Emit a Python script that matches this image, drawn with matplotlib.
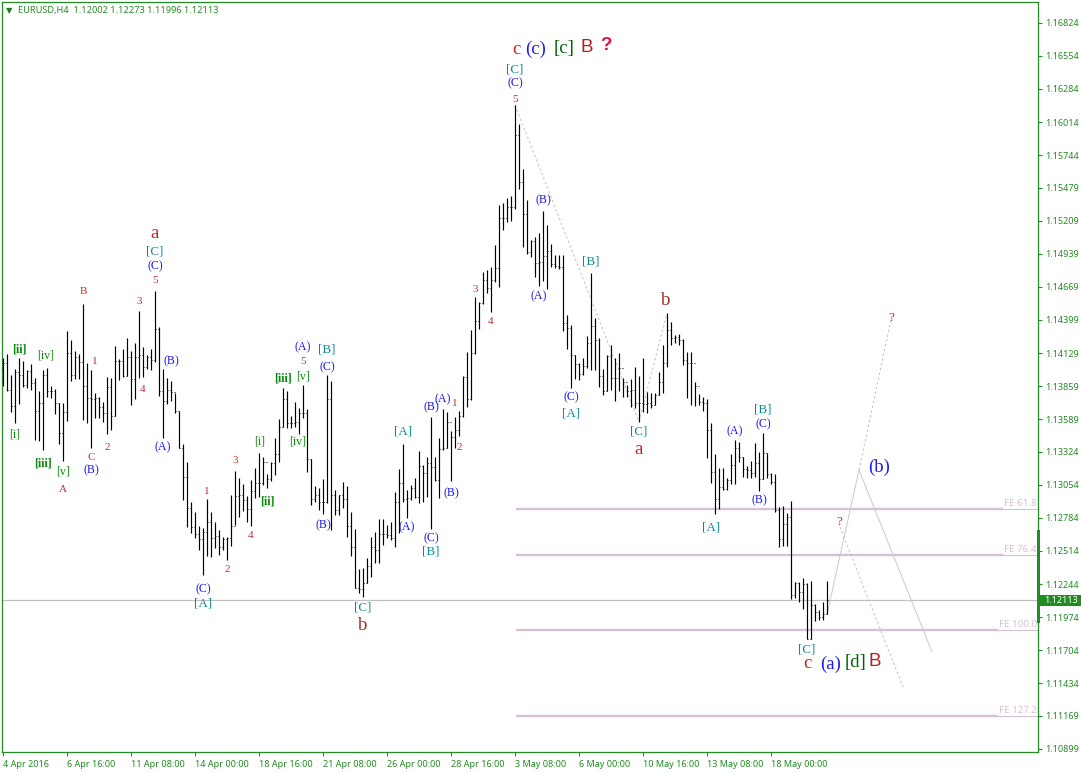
import matplotlib
matplotlib.use("Agg")
import matplotlib.pyplot as plt
from matplotlib.patches import Rectangle

WIDTH, HEIGHT = 1081, 773
GREEN = "#228B22"
THISTLE = "#D8BFD8"
SILVER = "#C0C0C0"

highs = [1.14086, 1.14121, 1.13950, 1.13996, 1.14086, 1.14064, 1.13991, 1.14040, 1.13923, 1.13819,
         1.13991, 1.14004, 1.13860, 1.13833, 1.13724, 1.13719, 1.14309, 1.14235, 1.14146, 1.14121,
         1.14529, 1.14045, 1.13991, 1.13800, 1.13773, 1.13732, 1.13931, 1.13928, 1.14186, 1.14078,
         1.14159, 1.14249, 1.14146, 1.14208, 1.14472, 1.14181, 1.14113, 1.14159, 1.14635, 1.14339,
         1.13996, 1.13923, 1.13901, 1.13806, 1.13659, 1.13387, 1.13237, 1.12911, 1.12829, 1.12720,
         1.12704, 1.12938, 1.12829, 1.12748, 1.12685, 1.12625, 1.12631, 1.12971, 1.13166, 1.13107,
         1.13060, 1.12962, 1.13093, 1.13188, 1.13311, 1.13284, 1.13142, 1.13243, 1.13433, 1.13591,
         1.13841, 1.13819, 1.13615, 1.13732, 1.13683, 1.13868, 1.13670, 1.13265, 1.13044, 1.13025,
         1.13099, 1.13950, 1.13901, 1.13012, 1.12971, 1.13074, 1.13044, 1.12829, 1.12691, 1.12367,
         1.12372, 1.12454, 1.12631, 1.12672, 1.12772, 1.12772, 1.12726, 1.12753, 1.12993, 1.13183,
         1.13384, 1.13012, 1.13052, 1.13107, 1.13330, 1.13216, 1.13278, 1.13605, 1.13284, 1.13433,
         1.13670, 1.13651, 1.13493, 1.13610, 1.13656, 1.13942, 1.14135, 1.14317, 1.14584, 1.14548,
         1.14793, 1.14807, 1.14834, 1.15011, 1.15337, 1.15351, 1.15391, 1.15410, 1.16153, 1.15998,
         1.15628, 1.15378, 1.15051, 1.15073, 1.15106, 1.15288, 1.15174, 1.15016, 1.14929, 1.14929,
         1.14929, 1.14439, 1.14358, 1.14113, 1.14045, 1.14086, 1.14268, 1.14779, 1.14412, 1.14249,
         1.13996, 1.14113, 1.14195, 1.14086, 1.14132, 1.13923, 1.13868, 1.13917, 1.14018, 1.13944,
         1.14086, 1.13814, 1.13800, 1.13800, 1.13977, 1.14195, 1.14453, 1.14385, 1.14276, 1.14284,
         1.14241, 1.14140, 1.14140, 1.13896, 1.13795, 1.13768, 1.13754, 1.13556, 1.13305, 1.13188,
         1.13188, 1.13112, 1.13305, 1.13420, 1.13406, 1.13284, 1.13207, 1.13248, 1.13392, 1.13324,
         1.13474, 1.13311, 1.13148, 1.13142, 1.12876, 1.12884, 1.12821, 1.12922, 1.12258, 1.12264,
         1.12291, 1.12250, 1.12269, 1.12081, 1.12032, 1.12100, 1.12273]

lows = [1.13860, 1.13822, 1.13651, 1.13561, 1.13713, 1.13849, 1.13841, 1.13827, 1.13419, 1.13411,
        1.13338, 1.13768, 1.13759, 1.13632, 1.13387, 1.13251, 1.13577, 1.13904, 1.13914, 1.13914,
        1.13583, 1.13561, 1.13357, 1.13596, 1.13596, 1.13569, 1.13468, 1.13501, 1.13615, 1.13909,
        1.13936, 1.13942, 1.13705, 1.13757, 1.13923, 1.13931, 1.13996, 1.13991, 1.14059, 1.13778,
        1.13438, 1.13713, 1.13740, 1.13642, 1.13351, 1.12930, 1.12712, 1.12658, 1.12617, 1.12522,
        1.12318, 1.12473, 1.12467, 1.12535, 1.12481, 1.12522, 1.12440, 1.12557, 1.12726, 1.12794,
        1.12843, 1.12753, 1.12718, 1.12949, 1.12957, 1.13052, 1.13025, 1.13085, 1.13134, 1.13243,
        1.13528, 1.13515, 1.13520, 1.13523, 1.13469, 1.13596, 1.13161, 1.12889, 1.12916, 1.12848,
        1.12816, 1.12908, 1.12685, 1.12808, 1.12808, 1.12862, 1.12631, 1.12476, 1.12209, 1.12168,
        1.12141, 1.12250, 1.12304, 1.12413, 1.12419, 1.12563, 1.12617, 1.12604, 1.12549, 1.12658,
        1.12916, 1.12780, 1.12930, 1.12944, 1.12903, 1.12916, 1.12957, 1.12691, 1.13088, 1.12949,
        1.13338, 1.13352, 1.13085, 1.13352, 1.13452, 1.13610, 1.13686, 1.13746, 1.14122, 1.14323,
        1.14529, 1.14622, 1.14467, 1.14712, 1.14671, 1.15133, 1.15201, 1.15209, 1.15302, 1.15465,
        1.14997, 1.14937, 1.14915, 1.14752, 1.14679, 1.14720, 1.14649, 1.14828, 1.14820, 1.14812,
        1.14312, 1.14162, 1.13846, 1.13917, 1.13909, 1.13950, 1.14004, 1.13991, 1.13991, 1.13855,
        1.13787, 1.13822, 1.13827, 1.13740, 1.13822, 1.13773, 1.13773, 1.13691, 1.13678, 1.13569,
        1.13651, 1.13642, 1.13678, 1.13705, 1.13787, 1.13800, 1.14012, 1.14195, 1.14208, 1.14195,
        1.14032, 1.13765, 1.13705, 1.13697, 1.13705, 1.13656, 1.13275, 1.13066, 1.12813, 1.12854,
        1.13012, 1.13012, 1.13061, 1.13061, 1.13243, 1.13120, 1.13112, 1.13112, 1.13115, 1.13006,
        1.13101, 1.13107, 1.13061, 1.12829, 1.12549, 1.12557, 1.12557, 1.12122, 1.12128, 1.12100,
        1.12041, 1.11793, 1.11793, 1.11945, 1.11951, 1.11951, 1.11996]

closes = [1.14050, 1.13827, 1.13697, 1.13977, 1.13950, 1.13868, 1.13985, 1.13887, 1.13659, 1.13719,
          1.13950, 1.13819, 1.13819, 1.13719, 1.13479, 1.13645, 1.14132, 1.13950, 1.14099, 1.14059,
          1.13860, 1.13765, 1.13751, 1.13759, 1.13691, 1.13637, 1.13855, 1.13615, 1.14064, 1.14064,
          1.13944, 1.14094, 1.13914, 1.14099, 1.14113, 1.14012, 1.14094, 1.14072, 1.14322, 1.13822,
          1.13740, 1.13827, 1.13814, 1.13659, 1.13357, 1.13115, 1.12862, 1.12712, 1.12652, 1.12612,
          1.12666, 1.12748, 1.12617, 1.12639, 1.12544, 1.12609, 1.12617, 1.12718, 1.12965, 1.12971,
          1.12930, 1.12854, 1.13006, 1.13071, 1.13066, 1.13237, 1.13099, 1.13229, 1.13303, 1.13523,
          1.13751, 1.13556, 1.13561, 1.13569, 1.13643, 1.13643, 1.13262, 1.12935, 1.12971, 1.12916,
          1.12916, 1.13751, 1.12971, 1.12848, 1.12971, 1.12935, 1.12718, 1.12549, 1.12215, 1.12201,
          1.12255, 1.12391, 1.12549, 1.12522, 1.12650, 1.12650, 1.12645, 1.12617, 1.12916, 1.13066,
          1.12935, 1.12944, 1.13025, 1.12957, 1.13210, 1.13148, 1.13229, 1.13202, 1.13093, 1.13343,
          1.13352, 1.13569, 1.13447, 1.13501, 1.13615, 1.13936, 1.13754, 1.14127, 1.14391, 1.14535,
          1.14725, 1.14657, 1.14725, 1.14820, 1.15228, 1.15228, 1.15323, 1.15323, 1.15908, 1.15527,
          1.15261, 1.14951, 1.15046, 1.14861, 1.14875, 1.14921, 1.14964, 1.14853, 1.14839, 1.14828,
          1.14371, 1.14331, 1.14113, 1.14037, 1.13955, 1.14023, 1.14214, 1.14350, 1.14235, 1.13942,
          1.13822, 1.14105, 1.13923, 1.13923, 1.14004, 1.13895, 1.13822, 1.13827, 1.13724, 1.13724,
          1.13713, 1.13719, 1.13705, 1.13787, 1.13895, 1.14050, 1.14317, 1.14249, 1.14257, 1.14235,
          1.14072, 1.14045, 1.14045, 1.13860, 1.13732, 1.13724, 1.13501, 1.13161, 1.12935, 1.13039,
          1.13017, 1.13093, 1.13216, 1.13352, 1.13278, 1.13183, 1.13175, 1.13148, 1.13229, 1.13099,
          1.13311, 1.13142, 1.13080, 1.12848, 1.12609, 1.12734, 1.12794, 1.12155, 1.12250, 1.12182,
          1.12245, 1.11796, 1.12073, 1.12019, 1.11978, 1.12000, 1.12113]

opens = [1.14000, 1.14050, 1.13827, 1.13697, 1.13977, 1.13950, 1.13868, 1.13985, 1.13887, 1.13659,
         1.13719, 1.13950, 1.13819, 1.13819, 1.13719, 1.13479, 1.13645, 1.14132, 1.13950, 1.14099,
         1.14059, 1.13860, 1.13765, 1.13751, 1.13759, 1.13691, 1.13637, 1.13855, 1.13615, 1.14064,
         1.14064, 1.13944, 1.14094, 1.13914, 1.14099, 1.14113, 1.14012, 1.14094, 1.14072, 1.14322,
         1.13822, 1.13740, 1.13827, 1.13814, 1.13659, 1.13357, 1.13115, 1.12862, 1.12712, 1.12652,
         1.12612, 1.12666, 1.12748, 1.12617, 1.12639, 1.12544, 1.12609, 1.12617, 1.12718, 1.12965,
         1.12971, 1.12930, 1.12854, 1.13006, 1.13071, 1.13066, 1.13237, 1.13099, 1.13229, 1.13303,
         1.13523, 1.13751, 1.13556, 1.13561, 1.13569, 1.13643, 1.13643, 1.13262, 1.12935, 1.12971,
         1.12916, 1.12916, 1.13751, 1.12971, 1.12848, 1.12971, 1.12935, 1.12718, 1.12549, 1.12215,
         1.12201, 1.12255, 1.12391, 1.12549, 1.12522, 1.12650, 1.12650, 1.12645, 1.12617, 1.12916,
         1.13066, 1.12935, 1.12944, 1.13025, 1.12957, 1.13210, 1.13148, 1.13229, 1.13202, 1.13093,
         1.13343, 1.13352, 1.13569, 1.13447, 1.13501, 1.13615, 1.13936, 1.13754, 1.14127, 1.14391,
         1.14535, 1.14725, 1.14657, 1.14725, 1.14820, 1.15228, 1.15228, 1.15323, 1.15323, 1.15908,
         1.15527, 1.15261, 1.14951, 1.15046, 1.14861, 1.14875, 1.14921, 1.14964, 1.14853, 1.14839,
         1.14828, 1.14371, 1.14331, 1.14113, 1.14037, 1.13955, 1.14023, 1.14214, 1.14350, 1.14235,
         1.13942, 1.13822, 1.14105, 1.13923, 1.13923, 1.14004, 1.13895, 1.13822, 1.13827, 1.13724,
         1.13724, 1.13713, 1.13719, 1.13705, 1.13787, 1.13895, 1.14050, 1.14317, 1.14249, 1.14257,
         1.14235, 1.14072, 1.14045, 1.14045, 1.13860, 1.13732, 1.13724, 1.13501, 1.13161, 1.12935,
         1.13039, 1.13017, 1.13093, 1.13216, 1.13352, 1.13278, 1.13183, 1.13175, 1.13148, 1.13229,
         1.13099, 1.13311, 1.13142, 1.13080, 1.12848, 1.12609, 1.12734, 1.12794, 1.12155, 1.12250,
         1.12182, 1.12245, 1.11796, 1.12073, 1.12019, 1.11978, 1.12002]

assert len(opens) == len(highs) == len(lows) == len(closes), "OHLC lists differ in length!"

price_ticks = [1.16824, 1.16554, 1.16284, 1.16014, 1.15744, 1.15479, 1.15209, 1.14939, 1.14669, 1.14399,
               1.14129, 1.13859, 1.13589, 1.13324, 1.13054, 1.12784, 1.12514, 1.12244, 1.11974, 1.11704,
               1.11434, 1.11169, 1.10899]
time_ticks = [0, 16, 32, 48, 64, 80, 96, 112, 128, 144, 160, 176, 192]
time_labels = ["4 Apr 2016", "6 Apr 16:00", "11 Apr 08:00", "14 Apr 00:00", "18 Apr 16:00", "21 Apr 08:00",
               "26 Apr 00:00", "28 Apr 16:00", "3 May 08:00", "6 May 00:00", "10 May 16:00", "13 May 08:00",
               "18 May 00:00"]
last_price = 1.12113

fe_names = ["FE 61.8", "FE 76.4", "FE 100.0", "FE 127.2"]
fe_prices = [1.12857, 1.12481, 1.11869, 1.11167]
fe_start = 128.25
fe_thick_end = [250, 250, 248.75, 248.75]

dashed_x = [[128, 159, 166], [214, 222], [209.25, 225]]
dashed_y = [[1.16153, 1.13569, 1.14453], [1.13175, 1.14399], [1.12710, 1.11404]]
solid_x = [206, 214, 232.25]
solid_y = [1.11996, 1.13175, 1.11690]

RED = "#C8201E"
NUM = "#C0302A"
BLUE = "#1A1AF0"
TEAL = "#0B8A96"
LIME = "#0A8A0A"
# text, x pixel, y pixel
small_nums = [("1", 95, 361), ("3", 139, 302), ("4", 143, 389), ("5", 155, 281), ("2", 107, 448),
              ("1", 207, 491), ("3", 235, 461), ("2", 227, 570), ("4", 251, 536), ("5", 303, 361),
              ("1", 455, 404), ("2", 459, 448), ("3", 475, 290), ("4", 491, 322), ("5", 515, 99),
              ("A", 63, 489), ("B", 83, 292), ("C", 91, 457)]
paren_labels = [("(B)", 91, 470), ("(C)", 155, 266), ("(B)", 171, 361), ("(A)", 163, 447), ("(C)", 203, 589),
                ("(A)", 303, 347), ("(C)", 327, 367), ("(B)", 323, 525), ("(A)", 407, 527), ("(C)", 431, 538),
                ("(B)", 431, 407), ("(A)", 443, 399), ("(B)", 451, 493), ("(C)", 515, 83), ("(B)", 543, 200),
                ("(A)", 539, 296), ("(C)", 571, 397), ("(A)", 735, 431), ("(C)", 763, 424), ("(B)", 759, 500)]
bracket_labels = [("[C]", 155, 251), ("[A]", 203, 604), ("[B]", 327, 349), ("[C]", 363, 608), ("[A]", 403, 431),
                  ("[B]", 431, 552), ("[C]", 515, 69), ("[A]", 571, 414), ("[B]", 591, 261), ("[C]", 639, 432),
                  ("[B]", 763, 409), ("[A]", 711, 528), ("[C]", 807, 650)]
roman_labels = [("[ii]", 19, 349), ("[iv]", 46, 356), ("[i]", 15, 435), ("[iii]", 43, 463), ("[v]", 63, 472),
                ("[i]", 260, 441), ("[ii]", 267, 501), ("[iii]", 283, 378), ("[iv]", 298, 442), ("[v]", 303, 376)]
big_labels = [("a", 155, 233, RED), ("b", 363, 626, "#A52A2A"), ("b", 666, 300, "#A52A2A"), ("a", 639, 450, RED),
              ("c", 516, 49, RED), ("(c)", 536, 49, BLUE), ("[c]", 564, 49, "#006400"), ("c", 807, 664, RED),
              ("(a)", 831, 664, BLUE), ("[d]", 855, 663, "#006400"), ("(b)", 879, 467, BLUE)]

fig = plt.figure(figsize=(WIDTH / 100, HEIGHT / 100), dpi=100, facecolor="white")
ax = fig.add_axes([2 / WIDTH, 1 - 752 / HEIGHT, 1036 / WIDTH, 750 / HEIGHT])
ax.set_xlim(-0.25, 258.75)
ax.set_ylim(1.1701 - 0.0000816 * 752, 1.1701 - 0.0000816 * 2)

bars = list(range(len(closes)))
ax.vlines(bars, lows, highs, color="black", lw=0.85, zorder=3)
ax.hlines(opens, [b - 0.25 for b in bars], bars, color="black", lw=0.7, zorder=3)
ax.hlines(closes, bars, [b + 0.25 for b in bars], color="black", lw=0.7, zorder=3)

ax.axhline(last_price, color=SILVER, lw=0.9, zorder=1)

for name, price, thick_end in zip(fe_names, fe_prices, fe_thick_end):
    ax.plot([fe_start, thick_end], [price, price], color=THISTLE, lw=1.7, zorder=1, solid_capstyle="butt")
    ax.plot([thick_end, 258.75], [price, price], color=THISTLE, lw=0.8, zorder=1)
    ax.text(258.5, price + 0.00005, name, color=THISTLE, fontsize=7, ha="right", va="bottom",
            family="Noto Sans")

for xs, ys in zip(dashed_x, dashed_y):
    ax.plot(xs, ys, color=SILVER, lw=0.7, ls=(0, (2.5, 2.5)), zorder=2)
ax.plot(solid_x, solid_y, color="#CCCCCC", lw=0.75, zorder=2)

for side in ["top", "left", "right", "bottom"]:
    ax.spines[side].set_color(GREEN)
    ax.spines[side].set_linewidth(0.9)

ax.yaxis.tick_right()
ax.set_yticks(price_ticks)
ax.set_yticklabels(["%.5f" % p for p in price_ticks], family="Noto Sans", fontsize=6.5, color=GREEN)
ax.tick_params(axis="y", length=3, width=0.8, color=GREEN, pad=1.8)
ax.set_xticks(time_ticks)
ax.set_xticklabels(time_labels, family="Noto Sans", fontsize=6.5, color=GREEN, ha="left")
ax.tick_params(axis="x", length=3, width=0.8, color=GREEN, pad=3)

# thick bar on the price scale and the last price tag
fig.add_artist(Rectangle((1037 / WIDTH, 1 - 623 / HEIGHT), 3 / WIDTH, 93 / HEIGHT, color=GREEN, lw=0))
fig.add_artist(Rectangle((1037 / WIDTH, 1 - 606 / HEIGHT), 44 / WIDTH, 11 / HEIGHT, color=GREEN, lw=0))
fig.text(1044 / WIDTH, 1 - 600.5 / HEIGHT, "%.5f" % last_price, color="white", fontsize=6.5, va="center",
         family="Noto Sans")


def label(text, x, y, color, size, family="Liberation Serif", weight="normal"):
    fig.text(x / WIDTH, 1 - y / HEIGHT, text, color=color, fontsize=size, family=family, weight=weight,
             ha="center", va="center")


for text, x, y in small_nums:
    label(text, x, y, NUM, 8)
for text, x, y in paren_labels:
    label(text, x, y, BLUE, 8.6)
for text, x, y in bracket_labels:
    label(text, x, y, TEAL, 9.4)
for text, x, y in roman_labels:
    label(text, x, y, LIME, 8.6, weight="bold" if "ii" in text else "normal")
for text, x, y, color in big_labels:
    label(text, x, y, color, 13.5)

label("B", 587, 47, "#B22222", 13.5, family="Liberation Sans")
label("?", 606, 46, "#DC143C", 13.5, family="Liberation Sans", weight="bold")
label("B", 875, 662, "#B22222", 13.5, family="Liberation Sans")
label("?", 839, 522, "#DC143C", 9.5)
label("?", 891, 318, "#DC143C", 9.5)

fig.text(6 / WIDTH, 1 - 10.5 / HEIGHT, "\u25BC", color="#1F7A1F", fontsize=6, va="center", family="DejaVu Sans")
fig.text(18 / WIDTH, 1 - 10.5 / HEIGHT, "EURUSD,H4  1.12002 1.12273 1.11996 1.12113", color=GREEN, fontsize=6.6,
         va="center", family="Noto Sans")

fig.savefig("out.png", dpi=100)
